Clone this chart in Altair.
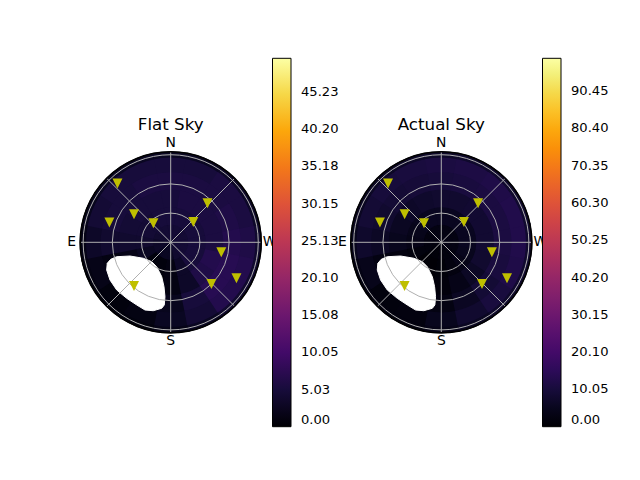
import math
import altair as alt
import pandas as pd

# ---------------- data ----------------
TITLES = ["Flat Sky", "Actual Sky"]
CARDINALS = ["N", "E", "S", "W"]
CARDINAL_AZ = [0, 90, 180, 270]

# yellow markers: azimuth (deg, N through E) and zenith distance (deg)
star_az = [42.2, 72.2, 52.7, 42.3, 311.8, 316.7, 258.8, 241.3, 224.3, 140.0]
star_zd = [81.5, 66.2, 47.4, 26.4, 31.2, 55.1, 53.0, 77.0, 59.9, 58.7]

# heat map cells: ring edges (zenith distance) and sector centres (azimuth)
ring_edges = [0, 18, 36, 54, 72, 87, 93]
sector_az = [0, 22.5, 45, 67.5, 90, 112.5, 135, 157.5,
             180, 202.5, 225, 247.5, 270, 292.5, 315, 337.5]

flat_vals = [
    [4.5, 4.5, 4.5, 4.0, 3.5, 3.5, 3.0, 3.0, 3.0, 4.0, 4.5, 4.5, 4.5, 4.5, 4.5, 4.5],
    [5.0, 5.0, 4.5, 4.5, 4.0, 3.0, 1.0, 1.0, 1.5, 3.5, 5.0, 5.0, 5.0, 5.0, 5.0, 5.0],
    [5.0, 5.0, 5.0, 4.5, 4.0, 2.0, 0.0, 0.0, 1.5, 3.5, 6.0, 6.5, 5.5, 5.5, 5.5, 5.5],
    [5.5, 5.5, 5.0, 5.0, 4.0, 1.5, 0.0, 0.5, 2.5, 5.0, 7.0, 7.0, 6.5, 6.0, 5.5, 5.5],
    [5.0, 5.0, 5.0, 4.5, 3.5, 2.0, 1.0, 1.5, 3.0, 4.5, 6.5, 6.5, 6.0, 5.5, 5.5, 5.0],
    [3.0, 3.0, 3.0, 2.5, 2.0, 1.5, 1.0, 1.0, 2.0, 3.0, 4.0, 4.0, 4.0, 3.5, 3.5, 3.0],
]
actual_vals = [
    [3.0, 3.0, 3.0, 2.5, 2.5, 2.0, 1.0, 1.0, 1.5, 2.0, 2.5, 3.0, 3.0, 3.0, 3.0, 3.0],
    [5.5, 5.5, 5.0, 4.5, 4.0, 2.0, 0.5, 0.5, 1.0, 2.5, 4.0, 5.0, 5.5, 5.5, 5.5, 5.5],
    [8.0, 7.5, 7.0, 6.0, 5.0, 2.5, 0.0, 0.0, 1.5, 4.0, 6.5, 8.0, 8.5, 8.5, 8.5, 8.0],
    [10.0, 9.5, 9.0, 8.0, 6.5, 3.0, 0.0, 0.5, 3.0, 6.0, 9.0, 10.5, 11.0, 11.0, 11.0, 10.5],
    [11.0, 10.5, 10.0, 9.0, 7.5, 4.5, 2.0, 2.5, 5.0, 8.0, 10.5, 12.0, 12.5, 12.5, 12.0, 11.5],
    [7.0, 7.0, 6.5, 6.0, 5.0, 3.5, 2.5, 2.5, 4.0, 6.0, 7.5, 8.0, 8.0, 8.0, 8.0, 7.5],
]

cbar_max = [49.8, 99.3]
flat_ticks = [0.0, 5.025, 10.05, 15.075, 20.1, 25.125, 30.15, 35.175, 40.2, 45.225]
actual_ticks = [0.0, 10.05, 20.1, 30.15, 40.2, 50.25, 60.3, 70.35, 80.4, 90.45]

# masked (no data) region outline, sky x / y in degrees from zenith
mask_x = [-65.8, -65.2, -61.7, -55.5, -41.8, -28.2, -19.5, -14.4, -9.2, -6.9,
          -5.9, -6.6, -9.2, -17.9, -26.4, -34.9, -45.2, -55.5, -62.4]
mask_y = [-28.5, -21.6, -17.5, -14.8, -14.1, -16.4, -19.9, -25.1, -35.4, -45.6,
          -55.9, -64.4, -67.8, -70.3, -69.6, -64.4, -57.6, -49.0, -38.7]

grid_zd = [30, 60, 90]
spoke_az = [0, 45, 90, 135, 180, 225, 270, 315]

# ---------------- layout / style constants ----------------
R_MAX = 93.0                 # horizon, degrees
R_PX = 90.5                  # horizon radius in pixels
K = R_PX / R_MAX
W, H = 624, 464
CX0_PX, CY_PX = 162.7, 234.3  # centre of left disc inside the plot area
X_DOMAIN = [-CX0_PX / K, (W - CX0_PX) / K]
Y_DOMAIN = [-(H - CY_PX) / K, CY_PX / K]
PANEL_DX = [0.0, 278.07]
LABEL_R = 101.7
TITLE_Y = 115.5
LEGEND_X = [264.5, 534.5]
LEGEND_Y = 50.3
FONT = "DejaVu Sans"
SEAM_A, SEAM_R = 1.0, 0.6     # small overlap of neighbouring cells to hide seams

xs = alt.Scale(domain=X_DOMAIN, nice=False, zero=False)
ys = alt.Scale(domain=Y_DOMAIN, nice=False, zero=False)
ts = alt.Scale(domain=[0, 360], range=[2 * math.pi, 0])
rs = alt.Scale(type="linear", domain=[0, R_MAX], range=[0, R_PX], nice=False, zero=True)


def X(f):
    return alt.X(f, type="quantitative", scale=xs, axis=None)


def Y(f):
    return alt.Y(f, type="quantitative", scale=ys, axis=None)


def R(f):
    return alt.Radius(f, type="quantitative", scale=rs, stack=False)


centers = pd.DataFrame({"p": [0, 1], "cx": PANEL_DX, "cy": [0.0, 0.0]})

layers = []

# dark base disc under the cells
layers.append(
    alt.Chart(centers.assign(r=R_MAX)).mark_arc(theta=0, theta2=6.2832, color="#130a33")
    .encode(x=X("cx"), y=Y("cy"), radius=R("r"))
)

# heat map cells, one layer per panel (independent colour scales)
for p, vals in enumerate([flat_vals, actual_vals]):
    rows = []
    for ri in range(len(ring_edges) - 1):
        for si, az in enumerate(sector_az):
            rows.append({"cx": PANEL_DX[p], "cy": 0.0,
                         "a0": az - 11.25, "a1": az + 11.25 + SEAM_A,
                         "r0": ring_edges[ri],
                         "r1": min(ring_edges[ri + 1] + SEAM_R, R_MAX + SEAM_R),
                         "v": vals[ri][si]})
    ticks = flat_ticks if p == 0 else actual_ticks
    cscale = alt.Scale(scheme="inferno", domain=[0, cbar_max[p]], nice=False)
    layers.append(
        alt.Chart(pd.DataFrame(rows)).mark_arc()
        .encode(
            x=X("cx"), y=Y("cy"),
            theta=alt.Theta("a0:Q", scale=ts, stack=False),
            theta2="a1:Q",
            radius=R("r1"),
            radius2="r0:Q",
            color=alt.Color(
                "v:Q", title=None, scale=cscale,
                legend=alt.Legend(
                    orient="none", legendX=LEGEND_X[p], legendY=LEGEND_Y,
                    direction="vertical", gradientLength=368.4, gradientThickness=18.5,
                    gradientStrokeColor="black", gradientStrokeWidth=1,
                    values=ticks, labelExpr="format(datum.value + 1e-9, '.2f')",
                    labelFont=FONT, labelFontSize=13.1, labelColor="black",
                    labelOffset=10, labelOverlap=False, padding=0,
                    labelBaseline="middle", labelAlign="left",
                ),
            ),
        )
    )

# masked region (white)
mask_rows = []
for p in range(2):
    for i, (mx, my) in enumerate(zip(mask_x, mask_y)):
        mask_rows.append({"p": p, "i": i, "x": mx + PANEL_DX[p], "y": my})
layers.append(
    alt.Chart(pd.DataFrame(mask_rows))
    .mark_line(interpolate="linear-closed", fill="white", stroke="white", strokeWidth=1)
    .encode(x=X("x"), y=Y("y"), order="i:Q", detail="p:N")
)

# grid circles
grid_rows = [{"cx": PANEL_DX[p], "cy": 0.0, "r": g} for p in range(2) for g in grid_zd]
layers.append(
    alt.Chart(pd.DataFrame(grid_rows))
    .mark_arc(theta=0, theta2=6.2832, filled=False, color="#b0b0b0", strokeWidth=1)
    .encode(x=X("cx"), y=Y("cy"), radius=R("r"))
)

# spokes
spoke_rows = [{"cx": PANEL_DX[p], "az": a} for p in range(2) for a in spoke_az]
layers.append(
    alt.Chart(pd.DataFrame(spoke_rows))
    .transform_calculate(
        x2=f"datum.cx - {R_MAX} * sin(datum.az * PI / 180)",
        y2=f"{R_MAX} * cos(datum.az * PI / 180)",
        y0="0",
    )
    .mark_rule(color="#b0b0b0", strokeWidth=1)
    .encode(x=X("cx"), y=Y("y0"), x2="x2:Q", y2="y2:Q")
)

# horizon outline
layers.append(
    alt.Chart(centers.assign(r=R_MAX)).mark_arc(theta=0, theta2=6.2832, filled=False,
                                                 color="black", strokeWidth=1.6)
    .encode(x=X("cx"), y=Y("cy"), radius=R("r"))
)

# stars
star_rows = [{"cx": PANEL_DX[p], "az": a, "zd": z} for p in range(2) for a, z in zip(star_az, star_zd)]
layers.append(
    alt.Chart(pd.DataFrame(star_rows))
    .transform_calculate(
        sx="datum.cx - datum.zd * sin(datum.az * PI / 180)",
        sy="datum.zd * cos(datum.az * PI / 180)",
    )
    .mark_point(shape="M-1,-1L1,-1L0,1Z", filled=True, size=100, color="#bfbf00",
                opacity=1, strokeWidth=0)
    .encode(x=X("sx"), y=Y("sy"))
)

# cardinal labels
card_rows = [{"cx": PANEL_DX[p], "az": a, "t": t} for p in range(2) for a, t in zip(CARDINAL_AZ, CARDINALS)]
layers.append(
    alt.Chart(pd.DataFrame(card_rows))
    .transform_calculate(
        lx=f"datum.cx - {LABEL_R} * sin(datum.az * PI / 180)",
        ly=f"{LABEL_R} * cos(datum.az * PI / 180)",
    )
    .mark_text(font=FONT, fontSize=13.9, color="black", align="center", baseline="middle")
    .encode(x=X("lx"), y=Y("ly"), text="t:N")
)

# panel titles
title_rows = [{"cx": PANEL_DX[p], "ty": TITLE_Y, "t": TITLES[p]} for p in range(2)]
layers.append(
    alt.Chart(pd.DataFrame(title_rows))
    .mark_text(font=FONT, fontSize=16.7, color="black", align="center", baseline="alphabetic")
    .encode(x=X("cx"), y=Y("ty"), text="t:N")
)

chart = (
    alt.layer(*layers)
    .resolve_scale(color="independent")
    .properties(width=W, height=H, padding=0, autosize=alt.AutoSizeParams(type="none"),
                background="white")
    .configure_view(stroke="transparent")
)

chart.save("out.html", embed_options={"renderer": "svg", "actions": False})
